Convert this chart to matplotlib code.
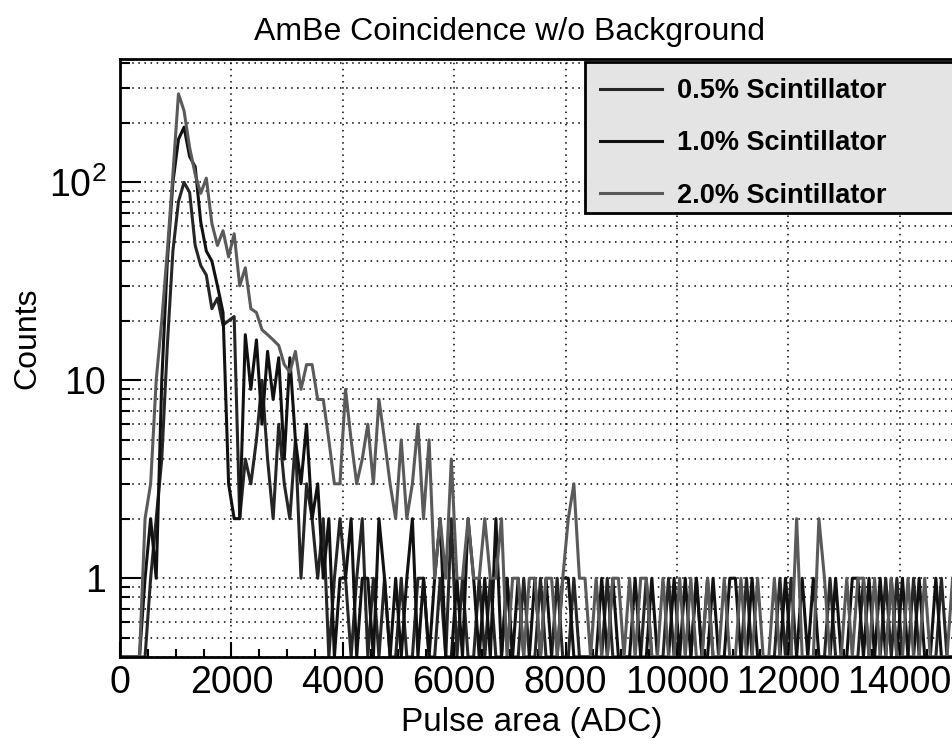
import numpy as np
import matplotlib
matplotlib.use("Agg")
import matplotlib.pyplot as plt
from matplotlib.ticker import MultipleLocator, FixedLocator, FixedFormatter
from matplotlib.patches import Rectangle

plt.rcParams['font.family'] = ['Liberation Sans', 'DejaVu Sans']
plt.rcParams['mathtext.fontset'] = 'custom'
plt.rcParams['mathtext.rm'] = 'Liberation Sans'

# histogram: 100 ADC bins, counts per bin
bin_centers = np.arange(150) * 100 + 50

counts_05 = [
    0, 0, 0, 0, 0, 1, 2, 4, 15, 45,
    80, 100, 89, 48, 38, 34, 23, 26, 19, 20,
    21, 2, 4, 3, 5, 10, 4, 2, 6, 3,
    2, 5, 1, 3, 2, 1, 2, 0, 1, 2,
    1, 0, 1, 2, 0, 1, 0, 1, 0, 0,
    1, 0, 0, 1, 1, 0, 0, 1, 0, 2,
    0, 1, 0, 0, 1, 0, 1, 0, 0, 1,
    0, 0, 1, 0, 0, 1, 0, 0, 1, 0,
    0, 1, 0, 0, 0, 0, 0, 1, 0, 0,
    0, 0, 0, 0, 1, 0, 0, 0, 1, 0,
    0, 0, 0, 1, 0, 1, 0, 0, 0, 0,
    0, 0, 1, 0, 0, 0, 0, 0, 1, 0,
    1, 0, 0, 0, 0, 0, 0, 1, 0, 0,
    0, 0, 0, 1, 0, 0, 0, 1, 0, 1,
    0, 0, 1, 0, 0, 0, 0, 1, 0, 0,
]

counts_10 = [
    0, 0, 0, 0, 1, 2, 1, 10, 40, 100,
    165, 190, 135, 120, 63, 45, 40, 30, 22, 3,
    2, 2, 17, 9, 16, 6, 14, 8, 13, 4,
    13, 5, 3, 6, 2, 3, 1, 2, 0, 1,
    1, 2, 0, 1, 1, 0, 2, 1, 0, 1,
    0, 1, 2, 0, 1, 0, 1, 2, 0, 0,
    1, 0, 2, 1, 0, 1, 0, 2, 0, 1,
    0, 1, 0, 0, 1, 0, 1, 0, 0, 1,
    1, 0, 0, 0, 0, 0, 1, 0, 1, 0,
    0, 0, 1, 0, 0, 1, 0, 0, 0, 1,
    0, 1, 0, 1, 0, 0, 1, 0, 0, 1,
    1, 0, 0, 1, 0, 0, 0, 0, 0, 1,
    0, 0, 1, 0, 1, 0, 0, 0, 1, 0,
    0, 1, 1, 0, 1, 0, 1, 0, 1, 0,
    1, 0, 0, 1, 0, 0, 1, 0, 0, 0,
]

counts_20 = [
    0, 0, 0, 0, 2, 3, 10, 20, 45, 110,
    280, 230, 150, 110, 88, 105, 62, 48, 57, 42,
    55, 30, 37, 23, 22, 18, 17, 16, 15, 12,
    11, 14, 9, 12, 12, 8, 8, 5, 3, 3,
    9, 5, 3, 4, 6, 3, 8, 5, 3, 2,
    5, 2, 3, 6, 2, 5, 1, 2, 1, 4,
    1, 1, 2, 1, 1, 2, 1, 1, 2, 0,
    1, 1, 0, 1, 1, 0, 1, 1, 0, 1,
    2, 3, 1, 1, 0, 1, 0, 0, 1, 1,
    0, 1, 0, 1, 1, 0, 0, 1, 0, 0,
    1, 0, 1, 0, 0, 1, 0, 0, 1, 0,
    0, 1, 0, 0, 1, 0, 0, 1, 0, 0,
    0, 2, 0, 0, 0, 2, 1, 0, 0, 0,
    1, 0, 1, 1, 0, 1, 0, 0, 1, 0,
    0, 1, 0, 0, 1, 0, 0, 0, 0, 1,
]

labels = ["0.5% Scintillator", "1.0% Scintillator", "2.0% Scintillator"]
colors = ["#262626", "#111111", "#5a5a5a"]

ymin, ymax = 0.4, 420

fig = plt.figure(figsize=(9.52, 7.53), dpi=100)
ax = fig.add_axes([120 / 952, 96 / 753, 832 / 952, 598 / 753])

for counts, lab, col in zip([counts_05, counts_10, counts_20], labels, colors):
    v = np.array(counts, dtype=float)
    # empty bins are drawn down to the bottom of the frame, like ROOT does
    ax.plot(bin_centers, np.where(v > 0, v, ymin), color=col, lw=2.2, label=lab)

ax.set_yscale('log')
ax.set_xlim(0, 14940)
ax.set_ylim(ymin, ymax)

ax.xaxis.set_major_locator(MultipleLocator(2000))
ax.xaxis.set_minor_locator(MultipleLocator(500))
ax.yaxis.set_major_locator(FixedLocator([1, 10, 100]))
ax.yaxis.set_major_formatter(FixedFormatter(["1", "10", r"$\mathregular{10^2}$"]))
minor_y = [m * 10.0 ** e for e in (-1, 0, 1, 2) for m in range(2, 10)]
ax.yaxis.set_minor_locator(FixedLocator(minor_y))
ax.yaxis.set_minor_formatter(FixedFormatter([""] * len(minor_y)))

ax.tick_params(axis='both', which='both', direction='in', top=False, right=False,
               labelsize=27, width=1.5, color='black')
ax.tick_params(axis='y', which='major', length=15, pad=10)
ax.tick_params(axis='y', which='minor', length=7)
ax.tick_params(axis='x', which='major', length=11, pad=6)
ax.tick_params(axis='x', which='minor', length=6)

ax.set_axisbelow(True)
ax.grid(True, axis='x', which='major', color='black', linestyle=(0, (1, 3)), lw=1.1)
ax.grid(True, axis='y', which='both', color='black', linestyle=(0, (1, 3)), lw=1.1)

for s in ['left', 'bottom', 'top']:
    ax.spines[s].set_linewidth(2)
ax.spines['right'].set_visible(False)

fig.text(510 / 952, 1 - 32 / 753, "AmBe Coincidence w/o Background",
         ha='center', va='center', fontsize=23)
fig.text(27 / 952, 1 - 338 / 753, "Counts", rotation=90,
         ha='center', va='center', fontsize=23)
fig.text(532 / 952, 1 - 722 / 753, "Pulse area (ADC)",
         ha='center', va='center', fontsize=24)

# legend box runs past the right edge of the picture
ax.add_patch(Rectangle((585 / 952, 1 - 213 / 753), 0.5, 151 / 753,
                       transform=fig.transFigure, facecolor='#e4e4e4',
                       edgecolor='black', lw=2, zorder=5, clip_on=False))
leg = ax.legend(loc='upper left', bbox_to_anchor=(600 / 952, 1 - 78 / 753),
                bbox_transform=fig.transFigure, frameon=False,
                prop={'weight': 'bold', 'size': 19.5}, handlelength=2.3,
                handletextpad=0.55, labelspacing=0.97, borderpad=0,
                borderaxespad=0)
leg.set_zorder(6)

fig.savefig("out.png", dpi=100)
